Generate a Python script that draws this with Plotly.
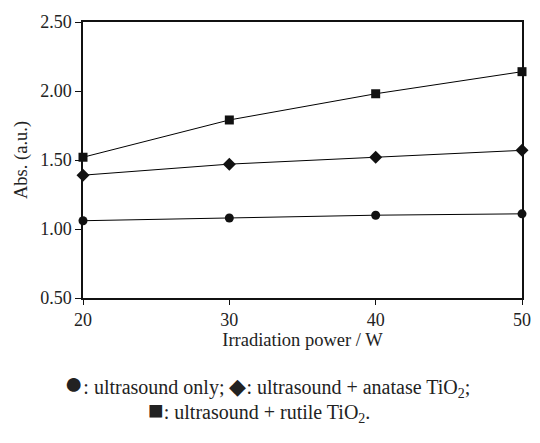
import plotly.graph_objects as go

power = [20, 30, 40, 50]
us_only = [1.06, 1.08, 1.10, 1.11]
us_anatase = [1.39, 1.47, 1.52, 1.57]
us_rutile = [1.52, 1.79, 1.98, 2.14]
y_ticks = [0.5, 1.0, 1.5, 2.0, 2.5]
y_labels = ["0.50", "1.00", "1.50", "2.00", "2.50"]

font = "Liberation Serif, Times New Roman, serif"

fig = go.Figure()
for ys, sym, sz in [(us_only, "circle", 9), (us_anatase, "diamond", 10), (us_rutile, "square", 9)]:
    fig.add_trace(go.Scatter(x=power, y=ys, mode="lines+markers",
                             line=dict(color="black", width=1),
                             marker=dict(symbol=sym, size=sz, color="#111111"),
                             cliponaxis=False, showlegend=False))

fig.update_layout(
    width=540, height=443,
    margin=dict(l=83, r=9, t=22, b=145),
    paper_bgcolor="white", plot_bgcolor="white",
    font=dict(family=font, color="#222222", size=18),
    xaxis=dict(range=[20, 50], tickvals=power, showline=True, mirror=True,
               linecolor="#111111", linewidth=1.5, ticks="outside", ticklen=5,
               tickcolor="#111111", showgrid=False, zeroline=False,
               tickfont=dict(size=18),
               title=dict(text="Irradiation power / W", font=dict(size=18.5), standoff=0)),
    yaxis=dict(range=[0.5, 2.5], tickvals=y_ticks, ticktext=y_labels, showline=True, mirror=True,
               linecolor="#111111", linewidth=1.5, ticks="outside", ticklen=6,
               tickcolor="#111111", showgrid=False, zeroline=False,
               tickfont=dict(size=18),
               title=dict(text="Abs. (a.u.)", font=dict(size=18.5), standoff=8)),
)

fig.add_annotation(text="<span style='font-size:32px'>●</span>: ultrasound only; <span style='font-size:22px'>◆</span>: ultrasound + anatase TiO<sub>2</sub>;",
                   xref="paper", yref="paper", x=0.42, y=-0.308, showarrow=False,
                   font=dict(size=20, family=font), xanchor="center", yanchor="middle")
fig.add_annotation(text="<span style='font-size:26px'>■</span>: ultrasound + rutile TiO<sub>2</sub>.",
                   xref="paper", yref="paper", x=0.40, y=-0.409, showarrow=False,
                   font=dict(size=20, family=font), xanchor="center", yanchor="middle")

fig.write_html("out.html")
